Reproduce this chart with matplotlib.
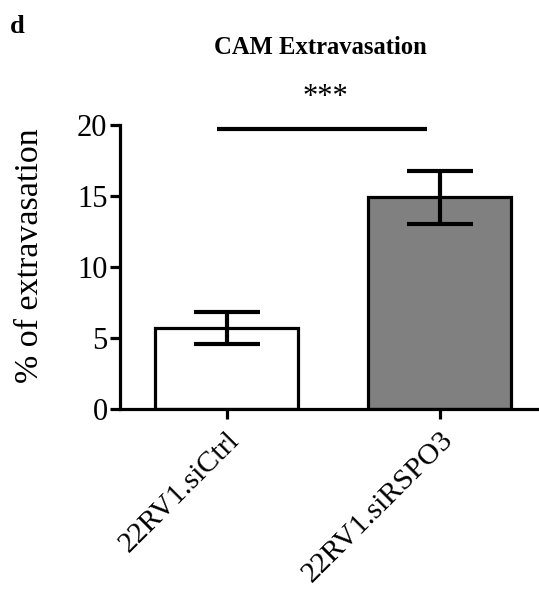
import matplotlib
matplotlib.use("Agg")
import matplotlib.pyplot as plt
from matplotlib.transforms import offset_copy

categories = ["22RV1.siCtrl", "22RV1.siRSPO3"]
means = [5.7, 14.9]
errors = [1.1, 1.87]
colors = ["white", "#808080"]
sig_label = "***"
sig_y = 19.7

plt.rcParams['font.family'] = ['Liberation Serif', 'DejaVu Serif']

fig = plt.figure(figsize=(5.39, 5.91), dpi=100)
ax = fig.add_axes([120/539, 182/591, 1 - 120/539, 284/591])

x = list(range(len(categories)))
ax.bar(x, means, width=0.67, color=colors, edgecolor="black", linewidth=2.3, zorder=2)
ax.errorbar(x, means, yerr=errors, fmt="none", ecolor="black", elinewidth=3,
            capsize=24, capthick=3, zorder=3)

ax.set_xlim(-0.5, 1.465)
ax.set_ylim(0, 20)
ax.set_yticks([0, 5, 10, 15, 20])
ax.set_xticks(x)
ax.set_xticklabels(categories, rotation=45, ha="right", rotation_mode="anchor", fontsize=21.5)
for lab in ax.get_xticklabels():
    lab.set_transform(offset_copy(lab.get_transform(), fig=fig, x=-9, y=6, units="dots"))
ax.tick_params(axis="y", labelsize=22, width=2.3, length=7, pad=2)
ax.tick_params(axis="x", width=2.3, length=7, pad=6)
for s in ["top", "right"]:
    ax.spines[s].set_visible(False)
for s in ["left", "bottom"]:
    ax.spines[s].set_linewidth(2.3)
ax.set_ylabel("% of extravasation", fontsize=24.5)
ax.yaxis.set_label_coords(-0.18, 0.539)

ax.plot([-0.044, 0.94], [sig_y, sig_y], color="black", linewidth=3, clip_on=False, solid_capstyle="butt")
fig.text(325/539, 1 - 105/591, sig_label, ha="center", va="baseline", fontsize=22)

fig.text(320/539, 1 - 48/591, "CAM Extravasation", ha="center", va="center", fontsize=17.7, fontweight="bold")
fig.text(10/539, 1 - 33/591, "d", ha="left", va="baseline", fontsize=19, fontweight="bold")

fig.savefig("out.png", dpi=100)
